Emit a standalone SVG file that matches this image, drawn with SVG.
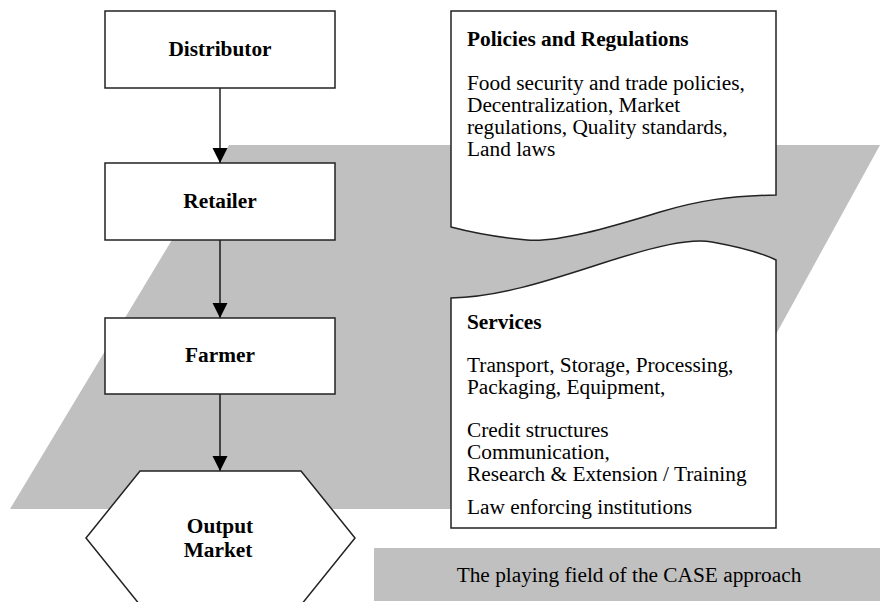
<svg xmlns="http://www.w3.org/2000/svg" width="880" height="602" viewBox="0 0 880 602">
<style>
.bg{fill:#c0c0c0;stroke:none}
.box{fill:#fff;stroke:#222;stroke-width:1.5}
.hd{font-family:"Liberation Serif","Times New Roman",serif;font-size:21.33px;font-weight:bold;fill:#000}
.tx{font-family:"Liberation Serif","Times New Roman",serif;font-size:21.33px;fill:#000}
.c{text-anchor:middle}
.con{stroke:#000;stroke-width:1.3;fill:none;marker-end:url(#ah)}
</style>
<defs>
<marker id="ah" markerUnits="userSpaceOnUse" markerWidth="16" markerHeight="16" refX="15" refY="7.5" orient="auto"><path d="M0,0 L15,7.5 L0,15 Z" fill="#000"/></marker>
</defs>
<g id="playing-field">
<polygon class="bg" points="229,145 880,145 680,509 10,509"/>
</g>
<g id="caption">
<rect class="bg" x="374" y="548" width="506" height="53"/>
<text class="tx c" x="629" y="582">The playing field of the CASE approach</text>
</g>
<g id="connectors">
<line class="con" x1="220" y1="88" x2="220" y2="163"/>
<line class="con" x1="220" y1="240" x2="220" y2="318"/>
<line class="con" x1="220" y1="394" x2="220" y2="471"/>
</g>
<g id="distributor">
<rect class="box" x="105" y="11" width="230" height="77"/>
<text class="hd c" x="220" y="56">Distributor</text>
</g>
<g id="retailer">
<rect class="box" x="105" y="163" width="230" height="77"/>
<text class="hd c" x="220" y="208">Retailer</text>
</g>
<g id="farmer">
<rect class="box" x="105" y="318" width="230" height="76"/>
<text class="hd c" x="220" y="362">Farmer</text>
</g>
<g id="output-market">
<polygon class="box" points="140,471 301,471 355,538 301,605 140,605 86,538"/>
<text class="hd c" x="220" y="533">Output</text>
<text class="hd c" x="218" y="557">Market</text>
</g>
<g id="policies">
<path class="box" d="M451,11 H776 V195 C730,196 700,200 660,212 S560,243 527,240 S470,232 451,227 Z"/>
<text class="hd" x="467" y="46">Policies and Regulations</text>
<text class="tx" x="467" y="90">Food security and trade policies,</text>
<text class="tx" x="467" y="112">Decentralization, Market</text>
<text class="tx" x="467" y="134">regulations, Quality standards,</text>
<text class="tx" x="467" y="156">Land laws</text>
</g>
<g id="services">
<path class="box" d="M451,298 C500,297 550,280 603,263 S690,238 712,242 S760,252 776,260 V528 H451 Z"/>
<text class="hd" x="467" y="329">Services</text>
<text class="tx" x="467" y="372">Transport, Storage, Processing,</text>
<text class="tx" x="467" y="394">Packaging, Equipment,</text>
<text class="tx" x="467" y="437">Credit structures</text>
<text class="tx" x="467" y="459">Communication,</text>
<text class="tx" x="467" y="481">Research &amp; Extension / Training</text>
<text class="tx" x="467" y="514">Law enforcing institutions</text>
</g>
</svg>
